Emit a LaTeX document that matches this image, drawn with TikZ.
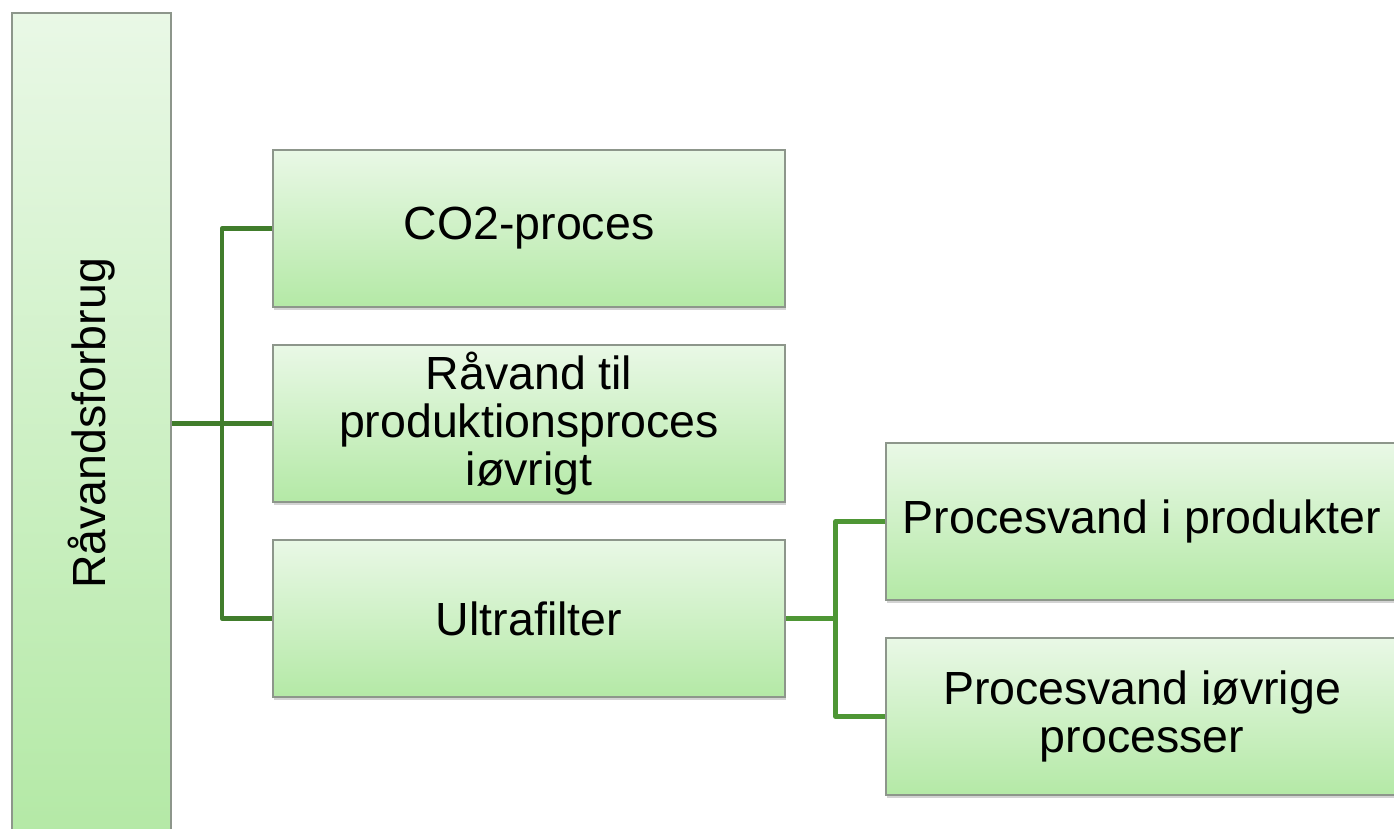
\documentclass[tikz,border=0pt]{standalone}
\usepackage{fontspec}
\setmainfont{Liberation Sans}
\usetikzlibrary{shadows,calc}

\definecolor{boxtop}{HTML}{E9F8E6}
\definecolor{boxbottom}{HTML}{B4E9A6}
\definecolor{boxline}{HTML}{8D968B}
\definecolor{branchdark}{HTML}{417D2C}
\definecolor{branchlight}{HTML}{4E9635}

\tikzset{
    smartbox/.style = {draw = boxline, line width = 1.5pt, top color = boxtop, bottom color = boxbottom,
        minimum width = 512pt, minimum height = 157pt, inner sep = 0pt, align = center,
        font = \fontsize{46.5}{48}\selectfont,
        drop shadow = {opacity = .35, shadow xshift = 1pt, shadow yshift = -3pt}}, % блок с градиентом
    branch/.style = {line width = 4.5pt, line join = round} % соединительная линия
}

\begin{document}
\begin{tikzpicture}[x = 1pt, y = -1pt]
        \clip (0, 0) rectangle (1394, 829); % рамка рисунка

        \node [smartbox, minimum width = 159pt, minimum height = 821pt] (root) at (91.5, 423.5) {\rotatebox{90}{Råvandsforbrug}}; % левый столбец
        \node [smartbox] (co2) at (529, 228.5) {CO2-proces};
        \node [smartbox] (rv) at (529, 423.5) {Råvand til\\produktionsproces\\iøvrigt};
        \node [smartbox] (uf) at (529, 618.5) {Ultrafilter};
        \node [smartbox] (pp) at (1142, 521.5) {Procesvand i produkter};
        \node [smartbox] (po) at (1142, 716.5) {Procesvand iøvrige\\processer};

        % Первая скобка
        \coordinate (u1) at ($(root.east)!.5!(rv.west)$);
        \draw [branch, branchdark] (root.east) -- (rv.west);
        \draw [branch, branchdark] (co2.west) -| (u1) |- (uf.west);

        % Вторая скобка
        \coordinate (u2) at ($(uf.east)!.5!(uf.east -| pp.west)$);
        \draw [branch, branchlight] (uf.east) -- (u2);
        \draw [branch, branchlight] (pp.west) -| (u2) |- (po.west);
    \end{tikzpicture}
\end{document}
